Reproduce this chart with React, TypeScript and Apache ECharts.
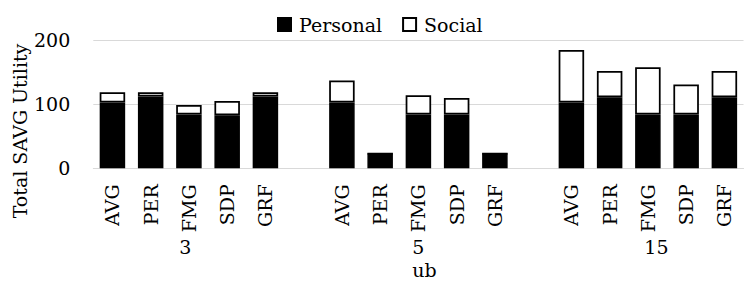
import React, { useEffect, useRef } from 'react';
import * as echarts from 'echarts';

const methods = ['AVG', 'PER', 'FMG', 'SDP', 'GRF'];
const groupLabels = ['3', '5', '15'];
const personal3 = [103, 112, 84, 83, 112];
const social3 = [16, 7, 15, 22, 7];
const personal5 = [103, 23, 84, 84, 23];
const social5 = [34, 0, 30, 26, 0];
const personal15 = [103, 111, 84, 84, 111];
const social15 = [82, 41, 74, 47, 41];
const yTicks = [0, 100, 200];
const seriesNames = ['Personal', 'Social'];
const xAxisTitle = 'ub';
const yAxisTitle = 'Total SAVG Utility';

const FONT = '"DejaVu Serif", serif';
const groupLabelPadding = [[0, 7, 0, 0], [0, 0, 0, 0], [0, 0, 0, 17]];

export default function App() {
  const ref = useRef<HTMLDivElement>(null);
  useEffect(() => {
    if (!ref.current) return;
    const chart = echarts.init(ref.current, undefined, { renderer: 'svg' });
    const personalGroups = [personal3, personal5, personal15];
    const socialGroups = [social3, social5, social15];
    const cats: string[] = [];
    const groupCats: any[] = [];
    const personal: (number | null)[] = [];
    const social: (number | null)[] = [];
    groupLabels.forEach((g, gi) => {
      if (gi > 0) {
        cats.push(' ');
        groupCats.push(' ');
        personal.push(null);
        social.push(null);
      }
      methods.forEach((m, mi) => {
        cats.push(m);
        groupCats.push(
          mi === 2
            ? { value: g, textStyle: { padding: groupLabelPadding[gi] } }
            : ''
        );
        personal.push(personalGroups[gi][mi]);
        social.push(socialGroups[gi][mi]);
      });
    });

    chart.setOption({
      animation: false,
      textStyle: { fontFamily: FONT },
      legend: {
        data: seriesNames,
        left: 277,
        top: 15,
        padding: 0,
        itemWidth: 13,
        itemHeight: 13,
        itemGap: 20,
        icon: 'rect',
        textStyle: { fontFamily: FONT, fontSize: 19, color: '#000', padding: [0, 0, 0, 3] },
      },
      grid: {
        left: 93.3,
        right: 4.5,
        top: 40.3,
        bottom: 114.7,
        containLabel: false,
        outerBoundsMode: 'none',
      },
      xAxis: [
        {
          type: 'category',
          data: cats,
          position: 'bottom',
          axisLine: { show: true, lineStyle: { color: '#d9d9d9', width: 1 } },
          axisTick: { show: false },
          axisLabel: {
            interval: 0,
            rotate: 90,
            margin: 16,
            fontFamily: FONT,
            fontSize: 19,
            color: '#000',
          },
        },
        {
          type: 'category',
          data: groupCats,
          position: 'bottom',
          axisLine: { show: false },
          axisTick: { show: false },
          axisLabel: {
            interval: 0,
            margin: 69,
            fontFamily: FONT,
            fontSize: 19,
            color: '#000',
          },
        },
      ],
      yAxis: {
        type: 'value',
        min: yTicks[0],
        max: yTicks[yTicks.length - 1],
        interval: yTicks[1] - yTicks[0],
        axisLine: { show: false },
        axisTick: { show: false },
        splitLine: { lineStyle: { color: '#d9d9d9', width: 1 } },
        axisLabel: { margin: 23, fontFamily: FONT, fontSize: 19, color: '#000' },
      },
      series: [
        {
          name: seriesNames[0],
          type: 'bar',
          stack: 'total',
          barWidth: 25.5,
          data: personal,
          itemStyle: { color: '#000', borderColor: '#000', borderWidth: 1.5 },
        },
        {
          name: seriesNames[1],
          type: 'bar',
          stack: 'total',
          barWidth: 25.5,
          data: social,
          itemStyle: { color: '#fff', borderColor: '#000', borderWidth: 1.75 },
        },
      ],
      graphic: [
        {
          type: 'text',
          x: 19.5,
          y: 131,
          rotation: Math.PI / 2,
          style: {
            text: yAxisTitle,
            fontFamily: FONT,
            fontSize: 19,
            fill: '#000',
            align: 'center',
            verticalAlign: 'middle',
          },
        },
        {
          type: 'text',
          x: 424.5,
          y: 269.5,
          style: {
            text: xAxisTitle,
            fontFamily: FONT,
            fontSize: 19,
            fill: '#000',
            align: 'center',
            verticalAlign: 'middle',
          },
        },
      ],
    });
    return () => chart.dispose();
  }, []);
  return (
    <div
      ref={ref}
      style={{ position: 'absolute', left: 0, top: 0, width: 748, height: 283 }}
    />
  );
}
